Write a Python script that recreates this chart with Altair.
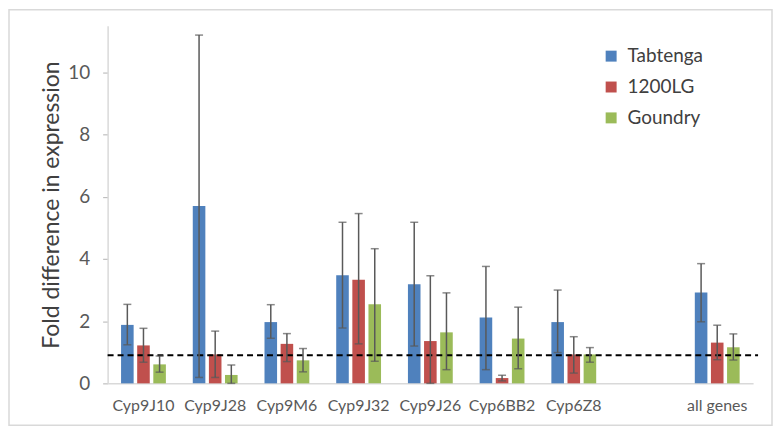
import altair as alt
import pandas as pd

genes = ["Cyp9J10", "Cyp9J28", "Cyp9M6", "Cyp9J32", "Cyp9J26", "Cyp6BB2", "Cyp6Z8", "all genes"]
x_domain = ["Cyp9J10", "Cyp9J28", "Cyp9M6", "Cyp9J32", "Cyp9J26", "Cyp6BB2", "Cyp6Z8", " ", "all genes"]
series = ["Tabtenga", "1200LG", "Goundry"]
colors = ["#4F81BD", "#C0504D", "#9BBB59"]

tabtenga = [1.88, 5.70, 1.97, 3.48, 3.19, 2.12, 1.97, 2.92]
tabtenga_lo = [1.24, 0.19, 1.45, 1.78, 1.20, 0.44, 0.99, 1.98]
tabtenga_hi = [2.54, 11.2, 2.53, 5.18, 5.18, 3.76, 3.00, 3.85]

lg1200 = [1.22, 0.93, 1.27, 3.33, 1.36, 0.17, 0.93, 1.31]
lg1200_lo = [0.68, 0.19, 0.70, 1.27, 0.00, 0.08, 0.33, 0.76]
lg1200_hi = [1.77, 1.68, 1.60, 5.46, 3.46, 0.26, 1.50, 1.87]

goundry = [0.61, 0.27, 0.74, 2.54, 1.64, 1.44, 0.93, 1.16]
goundry_lo = [0.36, 0.00, 0.37, 0.71, 0.44, 0.47, 0.68, 0.75]
goundry_hi = [0.88, 0.59, 1.12, 4.33, 2.91, 2.45, 1.15, 1.59]

reference_level = [0.9]
y_ticks = list(range(0, 12))

rows = []
for s, vals, los, his in [
    ("Tabtenga", tabtenga, tabtenga_lo, tabtenga_hi),
    ("1200LG", lg1200, lg1200_lo, lg1200_hi),
    ("Goundry", goundry, goundry_lo, goundry_hi),
]:
    for g, v, lo, hi in zip(genes, vals, los, his):
        rows.append({"gene": g, "series": s, "value": v, "lo": lo, "hi": hi})
df = pd.DataFrame(rows)

FONT = "Lato"
W, H = 648, 359

x_enc = alt.X(
    "gene:N",
    scale=alt.Scale(domain=x_domain, paddingInner=0.375, paddingOuter=0.1875),
    axis=alt.Axis(
        title=None, labelAngle=0, ticks=False, labelFontSize=16, labelFont=FONT,
        labelColor="#595959", labelPadding=14, domainColor="#d9d9d9", domainWidth=1.5,
    ),
)
xoff = alt.XOffset("series:N", scale=alt.Scale(domain=series, paddingInner=0.22, paddingOuter=0))
y_scale = alt.Scale(domain=[0, 11.5], nice=False, zero=True)

bars = alt.Chart(df).mark_bar().encode(
    x=x_enc,
    xOffset=xoff,
    y=alt.Y(
        "value:Q",
        scale=y_scale,
        axis=alt.Axis(
            title="Fold difference in expression", titleFontSize=23, titleFont=FONT,
            titleFontWeight="normal", titleColor="#404040", titlePadding=4,
            values=y_ticks, labelExpr="datum.value % 2 == 0 ? datum.label : ''",
            labelFontSize=19, labelFont=FONT, labelColor="#595959", labelPadding=13,
            tickSize=5, tickColor="#bfbfbf", tickWidth=1.2,
            domainColor="#d9d9d9", domainWidth=1.5, grid=False,
        ),
    ),
    color=alt.Color(
        "series:N",
        scale=alt.Scale(domain=series, range=colors),
        legend=alt.Legend(
            title=None, orient="none", legendX=496, legendY=21,
            symbolType="square", symbolSize=121, symbolStrokeWidth=0,
            labelFontSize=19, labelFont=FONT, labelColor="#404040",
            rowPadding=11, labelOffset=7,
        ),
    ),
)

err = alt.Chart(df).mark_rule(color="#595959", strokeWidth=1.5).encode(
    x=alt.X("gene:N", scale=alt.Scale(domain=x_domain)),
    xOffset=xoff,
    y=alt.Y("lo:Q", scale=y_scale),
    y2="hi:Q",
)
caps_hi = alt.Chart(df).mark_tick(color="#595959", size=8, thickness=1.5).encode(
    x=alt.X("gene:N", scale=alt.Scale(domain=x_domain)),
    xOffset=xoff,
    y=alt.Y("hi:Q", scale=y_scale),
)
caps_lo = alt.Chart(df).mark_tick(color="#595959", size=8, thickness=1.5).encode(
    x=alt.X("gene:N", scale=alt.Scale(domain=x_domain)),
    xOffset=xoff,
    y=alt.Y("lo:Q", scale=y_scale),
)

ref = alt.Chart(pd.DataFrame({"level": reference_level})).mark_rule(
    color="black", strokeWidth=2, strokeDash=[6, 4]
).encode(
    y=alt.Y("level:Q", scale=y_scale),
    x=alt.value(0),
    x2=alt.value(W + 5),
)

frame = alt.Chart(pd.DataFrame({"k": [0]})).mark_rect(
    fill="transparent", stroke="#d9d9d9", strokeWidth=1.5
).encode(
    x=alt.value(-99), x2=alt.value(W + 19), y=alt.value(-16), y2=alt.value(H + 42)
)

chart = alt.layer(frame, bars, ref, err, caps_hi, caps_lo).properties(
    width=W,
    height=H,
    autosize=alt.AutoSizeParams(type="none"),
    padding={"left": 100, "top": 17, "right": 21, "bottom": 44},
    background="white",
).configure_view(stroke=None)

chart.save("out.html", embed_options={"renderer": "svg", "actions": False})
